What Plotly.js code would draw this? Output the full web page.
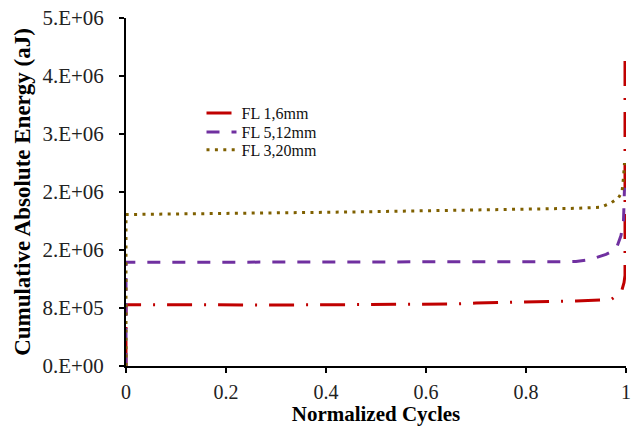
<!DOCTYPE html>
<html><head><meta charset="utf-8">
<script src="https://cdn.plot.ly/plotly-3.0.1.min.js"></script>
<style>html,body{margin:0;padding:0;background:#fff}#chart{width:641px;height:426px}</style>
</head><body><div id="chart"></div>
<script>
// Data
const seriesNames = ["FL 1,6mm", "FL 5,12mm", "FL 3,20mm"];

const fl1X = [0, 0, 0.005, 0.1, 0.2, 0.3, 0.4, 0.5, 0.6, 0.65, 0.7, 0.75, 0.8, 0.85, 0.9, 0.94, 0.97, 0.985, 0.992, 0.996, 0.998, 0.998];
const fl1Y = [0, 840000, 845000, 842000, 840000, 842000, 845000, 845000, 850000, 855000, 868000, 878000, 883000, 890000, 895000, 902000, 915000, 990000, 1050000, 1150000, 1250000, 4250000];

const fl5X = [0, 0, 0.005, 0.1, 0.2, 0.3, 0.4, 0.5, 0.6, 0.7, 0.8, 0.9, 0.93, 0.96, 0.98, 0.99, 0.995, 0.997];
const fl5Y = [0, 1430000, 1430000, 1430000, 1430000, 1430000, 1430000, 1430000, 1430000, 1432000, 1435000, 1440000, 1470000, 1540000, 1610000, 1800000, 2000000, 2460000];

const fl3X = [0, 0, 0.005, 0.1, 0.2, 0.3, 0.4, 0.5, 0.6, 0.7, 0.8, 0.9, 0.95, 0.97, 0.985, 0.992, 0.995, 0.997];
const fl3Y = [0, 2090000, 2090000, 2095000, 2100000, 2110000, 2120000, 2130000, 2140000, 2150000, 2160000, 2175000, 2190000, 2250000, 2320000, 2400000, 2600000, 2800000];

const yTickVals = [0, 800000, 1600000, 2400000, 3200000, 4000000, 4800000];
const yTickText = ["0.E+00", "8.E+05", "2.E+06", "2.E+06", "3.E+06", "4.E+06", "5.E+06"];
const xTickVals = [0, 0.2, 0.4, 0.6, 0.8, 1];
const xTickText = ["0", "0.2", "0.4", "0.6", "0.8", "1"];

const serif = "Liberation Serif, Times New Roman, serif";

const traces = [
  {x: fl1X, y: fl1Y, name: seriesNames[0], mode: "lines", legend: "legend",
   line: {color: "#c00000", width: 3, dash: "25px,12px,2px,12px"}},
  {x: fl5X, y: fl5Y, name: seriesNames[1], mode: "lines", legend: "legend2",
   line: {color: "#7030a0", width: 3, dash: "13px,12px"}},
  {x: fl3X, y: fl3Y, name: seriesNames[2], mode: "lines", legend: "legend3",
   line: {color: "#7f6000", width: 3, dash: "3px,5.4px"}}
];

function leg(y) {
  return {x: 0.151, y: y, xanchor: "left", yanchor: "middle",
          font: {family: serif, size: 16, color: "#111"},
          bgcolor: "rgba(0,0,0,0)", itemwidth: 30};
}

const layout = {
  width: 641, height: 426,
  margin: {l: 126, r: 15, t: 18, b: 60},
  paper_bgcolor: "#fff", plot_bgcolor: "#fff",
  font: {family: serif, color: "#222", size: 21},
  showlegend: true,
  legend: leg(0.727), legend2: leg(0.672), legend3: leg(0.621),
  xaxis: {range: [0, 1], tickvals: xTickVals, ticktext: xTickText,
          showgrid: false, zeroline: false, showline: true, linecolor: "#000", linewidth: 2,
          ticks: "outside", ticklen: 5, tickwidth: 2, tickcolor: "#000", ticklabelstandoff: 2,
          tickfont: {family: serif, size: 20, color: "#222"},
          title: {text: "<b>Normalized Cycles</b>", font: {family: serif, size: 21, color: "#000"}, standoff: 0}},
  yaxis: {range: [0, 4800000], tickvals: yTickVals, ticktext: yTickText,
          showgrid: false, zeroline: false, showline: true, linecolor: "#000", linewidth: 2,
          ticks: "outside", ticklen: 5, tickwidth: 2, tickcolor: "#000", ticklabelstandoff: 11,
          tickfont: {family: serif, size: 21, color: "#222"},
          title: {text: "<b>Cumulative Absolute Energy (aJ)</b>", font: {family: serif, size: 23, color: "#000"}, standoff: 5}}
};

Plotly.newPlot("chart", traces, layout, {displayModeBar: false, staticPlot: true});
</script>
</body></html>
